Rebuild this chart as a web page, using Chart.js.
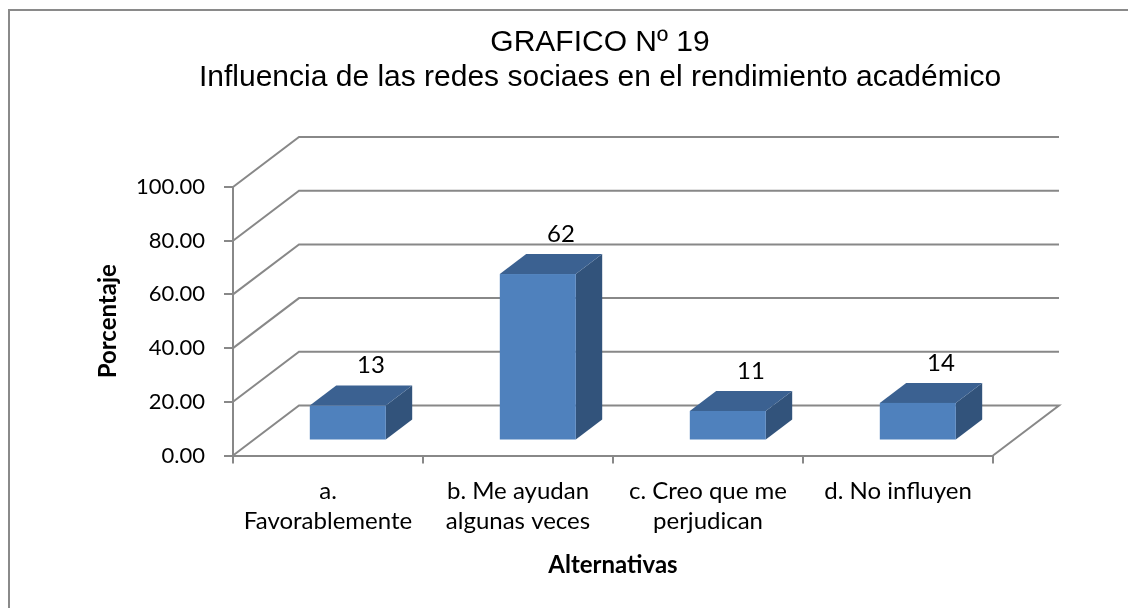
<!DOCTYPE html>
<html><head><meta charset="utf-8">
<script src="https://cdn.jsdelivr.net/npm/chart.js@4.4.1/dist/chart.umd.min.js"></script>
<style>html,body{margin:0;padding:0;background:#fff}#wrap{width:1128px;height:608px}</style>
</head><body><div id="wrap"><canvas id="c" width="1128" height="608"></canvas></div>
<script>
const titleLines = ['GRAFICO Nº 19', 'Influencia de las redes sociaes en el rendimiento académico'];
const categories = [['a.', 'Favorablemente'], ['b. Me ayudan', 'algunas veces'], ['c. Creo que me', 'perjudican'], ['d. No influyen']];
const values = [13, 62, 11, 14];
const yTicks = [0, 20, 40, 60, 80, 100];
const xTitle = 'Alternativas';
const yTitle = 'Porcentaje';

const GRID = '#888888';
const DX = 66, DY = -50, F1 = 0.3, F2 = 0.7;
const FRONT = '#4F81BD', TOP = '#3B6191', SIDE = '#32537B';
const FONT = 'Lato';

const deco = {
  id: 'deco',
  beforeDraw(chart) {
    const ctx = chart.ctx;
    ctx.save();
    ctx.fillStyle = '#fff';
    ctx.fillRect(0, 0, chart.width, chart.height);
    ctx.strokeStyle = '#8a8a8a';
    ctx.lineWidth = 2;
    ctx.strokeRect(9, 10, 1300, 800);
    ctx.fillStyle = '#000';
    ctx.font = '30px "Liberation Sans"';
    ctx.textAlign = 'center';
    ctx.textBaseline = 'middle';
    ctx.fillText(titleLines[0], 600, 43);
    ctx.fillText(titleLines[1], 600, 78);
    ctx.restore();
  },
  beforeDatasetsDraw(chart) {
    const {ctx, chartArea: {left, right}, scales: {y}} = chart;
    ctx.save();
    ctx.strokeStyle = GRID;
    ctx.lineWidth = 2;
    ctx.lineJoin = 'miter';
    y.ticks.forEach(t => {
      const py = y.getPixelForValue(t.value);
      ctx.beginPath();
      ctx.moveTo(left, py);
      ctx.lineTo(left + DX, py + DY);
      ctx.lineTo(right + DX, py + DY);
      if (t.value === y.min) ctx.lineTo(right, py);
      ctx.stroke();
    });
    ctx.restore();
  },
  afterDatasetsDraw(chart) {
    const ctx = chart.ctx;
    const meta = chart.getDatasetMeta(0);
    ctx.save();
    meta.data.forEach((el, i) => {
      const p = el.getProps(['x', 'y', 'base', 'width'], true);
      const x0 = p.x - p.width / 2 + F1 * DX, x1 = p.x + p.width / 2 + F1 * DX;
      const y0 = p.y + F1 * DY, yb = p.base + F1 * DY;
      const ddx = (F2 - F1) * DX, ddy = (F2 - F1) * DY;
      ctx.fillStyle = SIDE;
      ctx.beginPath();
      ctx.moveTo(x1, y0); ctx.lineTo(x1 + ddx, y0 + ddy); ctx.lineTo(x1 + ddx, yb + ddy); ctx.lineTo(x1, yb);
      ctx.closePath(); ctx.fill();
      ctx.fillStyle = TOP;
      ctx.beginPath();
      ctx.moveTo(x0, y0); ctx.lineTo(x0 + ddx, y0 + ddy); ctx.lineTo(x1 + ddx, y0 + ddy); ctx.lineTo(x1, y0);
      ctx.closePath(); ctx.fill();
      ctx.fillStyle = FRONT;
      ctx.fillRect(x0, y0, x1 - x0, yb - y0);
      ctx.fillStyle = '#000';
      ctx.font = '24px ' + FONT;
      ctx.textAlign = 'center';
      ctx.textBaseline = 'middle';
      ctx.fillText(String(values[i]), p.x + 0.65 * DX, p.y + F2 * DY - 20);
    });
    ctx.restore();
  }
};

function draw() {
  new Chart(document.getElementById('c'), {
    type: 'bar',
    data: {
      labels: categories,
      datasets: [{
        data: values,
        backgroundColor: 'rgba(0,0,0,0)',
        borderWidth: 0,
        barPercentage: 0.4,
        categoryPercentage: 1.0
      }]
    },
    options: {
      responsive: false,
      animation: false,
      devicePixelRatio: 1,
      layout: {padding: {left: 60, right: 135, top: 187, bottom: 20.5}},
      plugins: {legend: {display: false}, tooltip: {enabled: false}, title: {display: false}},
      scales: {
        x: {
          type: 'category',
          offset: true,
          grid: {offset: true, drawOnChartArea: false, drawTicks: true, tickLength: 8, color: GRID, lineWidth: 2},
          border: {display: true, color: GRID, width: 2},
          ticks: {color: '#000', font: {family: FONT, size: 24, lineHeight: 1.25}, padding: 12.5, maxRotation: 0, autoSkip: false},
          title: {display: true, text: xTitle, color: '#000', font: {family: FONT, size: 24, weight: 'bold', lineHeight: 1.2}, padding: {top: 2, bottom: 8}},
          afterFit(s) { s.height = 132; }
        },
        y: {
          min: 0, max: 100,
          afterBuildTicks(s) { s.ticks = yTicks.map(v => ({value: v})); },
          grid: {drawOnChartArea: false, drawTicks: true, tickLength: 9, color: GRID, lineWidth: 2},
          border: {display: true, color: GRID, width: 2},
          ticks: {color: '#000', font: {family: FONT, size: 22}, padding: 19, callback: v => Number(v).toFixed(2)},
          title: {display: true, text: yTitle, color: '#000', font: {family: FONT, size: 24, weight: 'bold', lineHeight: 1.2}, padding: {top: 34, bottom: 0}},
          afterFit(s) { s.width = 173; }
        }
      }
    },
    plugins: [deco]
  });
}

const fontLoads = [
  document.fonts.load('24px Lato'),
  document.fonts.load('bold 24px Lato'),
  document.fonts.load('30px "Liberation Sans"')
];
Promise.all(fontLoads).then(draw, draw);
</script>
</body></html>
